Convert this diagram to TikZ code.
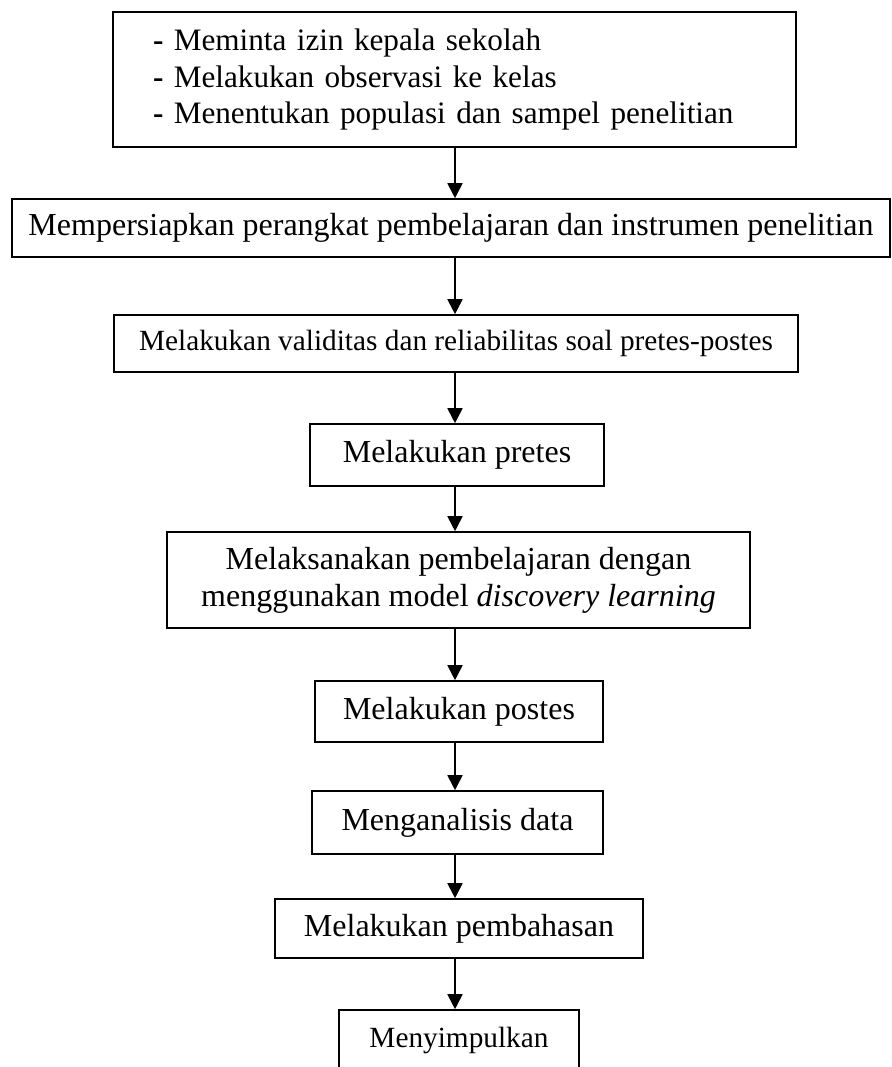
\documentclass[tikz,border=0pt]{standalone}
\usepackage{fontspec}
\setmainfont{Liberation Serif}
\usetikzlibrary{arrows.meta}
\tikzset{
  box/.style={draw,line width=1.6pt,inner sep=0pt,align=center},
  arr/.style={->,line width=1.8pt}
}
\newcommand{\bigtxt}{\fontsize{32}{37}\selectfont}
\newcommand{\listtxt}{\fontsize{31.2}{36.5}\selectfont}
\newcommand{\smalltxt}{\fontsize{29.3}{34}\selectfont}
\begin{document}
\begin{tikzpicture}[x=1pt,y=-1pt,>={Triangle[width=15pt,length=15pt]},font=\bigtxt]
	\useasboundingbox (0,0) rectangle (891,1067);
	\coordinate (col) at (455,0);
	% kotak-kotak
	\node[box,align=left,text width=603pt,inner xsep=40pt,minimum height=135pt,font=\listtxt] (izin) at (454.5,79.5)
		{\textbf{-} Meminta izin kepala sekolah\\ \textbf{-} Melakukan observasi ke kelas\\ \textbf{-} Menentukan populasi dan sampel penelitian};
	\node[box,minimum width=878pt,minimum height=58pt] (siap) at (451,228) {Mempersiapkan perangkat pembelajaran dan instrumen penelitian};
	\node[box,minimum width=684pt,minimum height=57pt,font=\smalltxt] (valid) at (456,343.5) {Melakukan validitas dan reliabilitas soal pretes-postes};
	\node[box,minimum width=294pt,minimum height=62pt] (pretes) at (457,455) {Melakukan pretes};
	\node[box,minimum width=583pt,minimum height=96pt] (ajar) at (458.5,580) {Melaksanakan pembelajaran dengan\\ menggunakan model \textit{discovery learning}};
	\node[box,minimum width=288pt,minimum height=61pt] (postes) at (459,711.5) {Melakukan postes};
	\node[box,minimum width=291pt,minimum height=63pt] (analisis) at (457.5,822.5) {Menganalisis data};
	\node[box,minimum width=368pt,minimum height=59pt] (bahas) at (459,928.5) {Melakukan pembahasan};
	\node[box,minimum width=240pt,minimum height=60pt,font=\smalltxt] (simpul) at (459,1040) {Menyimpulkan};
	% panah
	\draw[arr] (izin.south -| col) -- (siap.north -| col);
	\draw[arr] (siap.south -| col) -- (valid.north -| col);
	\draw[arr] (valid.south -| col) -- (pretes.north -| col);
	\draw[arr] (pretes.south -| col) -- (ajar.north -| col);
	\draw[arr] (ajar.south -| col) -- (postes.north -| col);
	\draw[arr] (postes.south -| col) -- (analisis.north -| col);
	\draw[arr] (analisis.south -| col) -- (bahas.north -| col);
	\draw[arr] (bahas.south -| col) -- (simpul.north -| col);
\end{tikzpicture}
\end{document}
